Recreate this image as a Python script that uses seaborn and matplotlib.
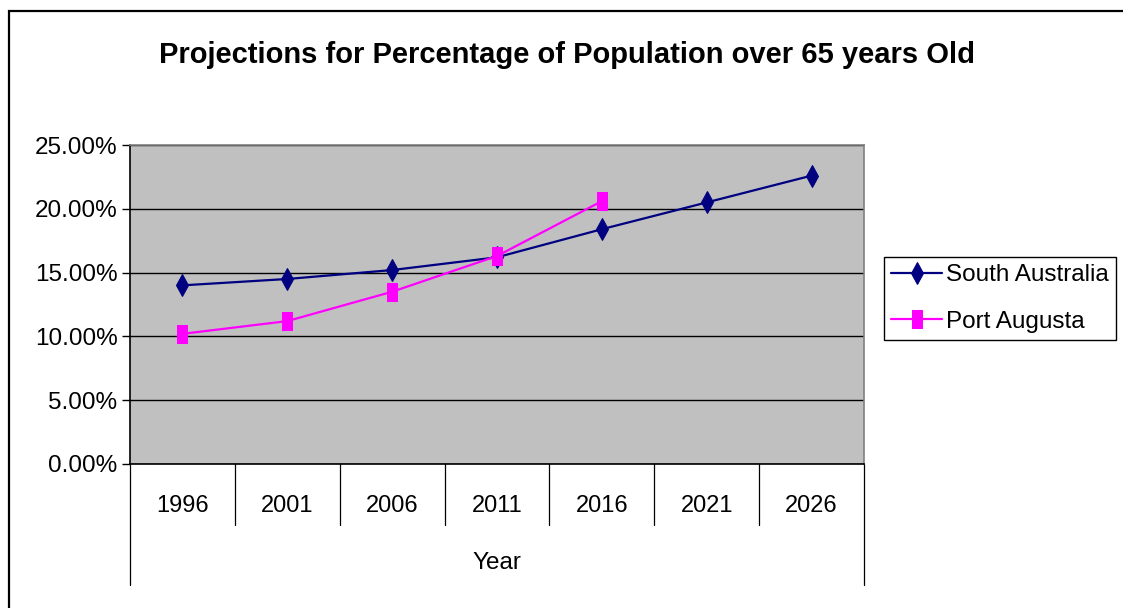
import matplotlib
matplotlib.use("Agg")
import matplotlib.pyplot as plt
import matplotlib.transforms as mtransforms
from matplotlib.patches import Rectangle
import seaborn as sns
import numpy as np
import pandas as pd

years = ["1996", "2001", "2006", "2011", "2016", "2021", "2026"]
south_australia = [14.0, 14.5, 15.2, 16.2, 18.4, 20.5, 22.6]
port_augusta = [10.2, 11.2, 13.5, 16.3, 20.6]
y_ticks = [0, 5, 10, 15, 20, 25]

sns.set_style("white")
plt.rcParams["font.family"] = ["Liberation Sans", "DejaVu Sans"]
plt.rcParams["text.color"] = "black"
plt.rcParams["xtick.color"] = "black"
plt.rcParams["ytick.color"] = "black"
plt.rcParams["axes.labelcolor"] = "black"

fig = plt.figure(figsize=(11.23, 6.08), dpi=100)
ax = fig.add_axes([130 / 1123, 1 - 464 / 608, (864 - 130) / 1123, (464 - 145) / 608])
ax.set_facecolor("#C0C0C0")

df_sa = pd.DataFrame({"pos": np.arange(len(south_australia)), "val": south_australia})
df_pa = pd.DataFrame({"pos": np.arange(len(port_augusta)), "val": port_augusta})

# tall narrow square like the excel one
rect = [(-0.6, -1), (0.6, -1), (0.6, 1), (-0.6, 1), (-0.6, -1)]

sns.lineplot(data=df_sa, x="pos", y="val", ax=ax, color="#000080", linewidth=1.6,
             marker="d", markersize=11, markeredgecolor="#000080", label="South Australia", zorder=3)
sns.lineplot(data=df_pa, x="pos", y="val", ax=ax, color="#FF00FF", linewidth=1.6,
             marker=rect, markersize=13, markeredgecolor="#FF00FF", label="Port Augusta", zorder=3)

ax.set_xlim(-0.5, len(years) - 0.5)
ax.set_ylim(0, 25)
ax.set_yticks(y_ticks)
ax.set_yticklabels(["{:.2f}%".format(v) for v in y_ticks], fontsize=17.5)
ax.yaxis.grid(True, color="black", linewidth=1)
ax.set_axisbelow(True)
ax.tick_params(axis="y", left=True, length=6, width=1, color="black", pad=3)

ax.set_xticks(np.arange(len(years)))
ax.set_xticklabels(years, fontsize=17)
ax.tick_params(axis="x", bottom=False, length=0, pad=22)
ax.set_xlabel("Year", fontsize=17.5, va="center")
ax.xaxis.set_label_coords(0.5, -(563 - 464) / 319)
ax.set_ylabel("")

for side in ["top", "right"]:
    ax.spines[side].set_color("#808080")
    ax.spines[side].set_linewidth(1.2)
for side in ["left", "bottom"]:
    ax.spines[side].set_color("black")
    ax.spines[side].set_linewidth(1.2)

# category separators below the axis
trans = mtransforms.blended_transform_factory(ax.transData, ax.transAxes)
for i in range(len(years) + 1):
    x = i - 0.5
    bottom = -121 / 319 if i in (0, len(years)) else -61 / 319
    ax.plot([x, x], [0, bottom], color="black", linewidth=0.9, transform=trans, clip_on=False)

fig.text(0.505, 1 - 55 / 608, "Projections for Percentage of Population over 65 years Old",
         ha="center", va="center", fontsize=21, fontweight="bold")

leg = ax.legend(loc="upper left", bbox_to_anchor=(884 / 1123, 1 - 257 / 608),
                bbox_transform=fig.transFigure, borderaxespad=0, fontsize=17.5,
                frameon=True, fancybox=False, framealpha=1, edgecolor="black",
                handlelength=2.1, handletextpad=0.15, borderpad=0.3, labelspacing=1.0)
leg.get_frame().set_linewidth(1)

fig.add_artist(Rectangle((8.5 / 1123, -0.1), 2, 1 - 11 / 608 + 0.1, transform=fig.transFigure,
                         fill=False, edgecolor="black", linewidth=1.6))

fig.savefig("out.png", dpi=100)
